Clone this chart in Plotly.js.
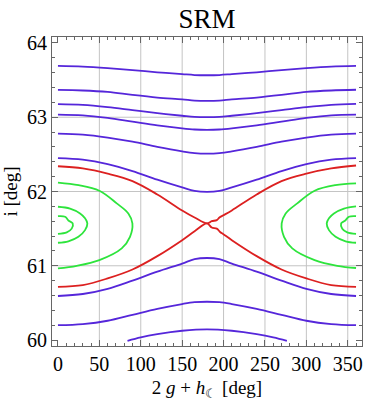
<!DOCTYPE html>
<html>
<head>
<meta charset="utf-8">
<script src="https://cdn.plot.ly/plotly-3.0.1.min.js"></script>
<style>
  body { margin: 0; background: #fff; }
  #chart { width: 376px; height: 404px; }
</style>
</head>
<body>
<div id="chart"></div>
<script>
// level curves, x = 2g + h [deg], y = i [deg]

var xTicks = [0, 50, 100, 150, 200, 250, 300, 350];
var xTickText = ['0', '50', '100', '150', '200', '250', '300', '350'];
var yTicks = [60, 61, 62, 63, 64];
var yTickText = ['60', '61', '62', '63', '64'];
var gridX = [50, 100, 150, 200, 250, 300, 350];
var gridY = [61, 62, 63];

// circulating curves (blue), sampled at the same x
var blueX = [0, 30, 60, 90, 120, 150, 165, 180, 195, 210, 240, 270, 300, 330, 360];
var blue1 = [63.69, 63.68, 63.66, 63.635, 63.605, 63.58, 63.568, 63.565, 63.568, 63.58, 63.605, 63.635, 63.66, 63.68, 63.69];
var blue2 = [63.367, 63.36, 63.34, 63.3, 63.265, 63.24, 63.224, 63.22, 63.224, 63.24, 63.265, 63.3, 63.34, 63.36, 63.37];
var blue3 = [63.175, 63.165, 63.135, 63.095, 63.055, 63.02, 63.004, 63.0, 63.004, 63.02, 63.055, 63.095, 63.135, 63.165, 63.18];
var blue4 = [63.036, 63.025, 62.99, 62.94, 62.89, 62.85, 62.835, 62.83, 62.835, 62.85, 62.89, 62.94, 62.99, 63.025, 63.035];
var blue5 = [62.78, 62.765, 62.725, 62.67, 62.6, 62.54, 62.517, 62.51, 62.517, 62.54, 62.6, 62.67, 62.725, 62.765, 62.78];
var blue6 = [62.45, 62.43, 62.37, 62.275, 62.16, 62.055, 62.008, 61.995, 62.008, 62.055, 62.16, 62.275, 62.37, 62.43, 62.45];
var blue7 = [60.593, 60.62, 60.69, 60.8, 60.92, 61.03, 61.09, 61.105, 61.09, 61.03, 60.92, 60.8, 60.69, 60.62, 60.593];
var blue8 = [60.2, 60.215, 60.26, 60.34, 60.42, 60.485, 60.51, 60.516, 60.51, 60.485, 60.42, 60.34, 60.26, 60.215, 60.2];
var blue9X = [84, 100, 120, 150, 180, 210, 240, 260, 276.5];
var blue9 = [59.99, 60.037, 60.08, 60.125, 60.145, 60.125, 60.08, 60.037, 59.99];

// separatrix (red)
var sepUpX = [0, 30, 60, 90, 120, 150, 165, 180, 185.7, 191.8, 195, 199.8, 210, 240, 270, 300, 330, 360];
var sepUp = [62.34, 62.31, 62.24, 62.14, 61.96, 61.745, 61.65, 61.57, 61.6, 61.615, 61.65, 61.68, 61.745, 61.96, 62.14, 62.24, 62.31, 62.35];
var sepLoX = [0, 30, 60, 90, 120, 150, 165, 180, 185.7, 191.8, 195.8, 199.8, 210, 240, 270, 300, 330, 360];
var sepLo = [60.717, 60.74, 60.83, 60.95, 61.13, 61.345, 61.465, 61.57, 61.515, 61.5, 61.455, 61.425, 61.345, 61.13, 60.95, 60.83, 60.74, 60.717];

// librating curves (green), left and right lobes
var grnOutLX = [0, 25, 50, 71, 85, 89.9, 87, 77, 50, 22.7, 0];
var grnOutL = [62.12, 62.085, 62.01, 61.84, 61.705, 61.57, 61.39, 61.235, 61.077, 61.0, 60.965];
var grnOutRX = [360, 335, 310, 289, 275, 270.2, 273, 283, 310, 337.3, 360];
var grnOutR = [62.11, 62.085, 62.01, 61.84, 61.705, 61.57, 61.39, 61.235, 61.077, 61.0, 60.97];
var grnMidLX = [0, 14.6, 26.7, 32.7, 35.5, 32.7, 24.7, 12.6, 0];
var grnMidL = [61.795, 61.77, 61.705, 61.64, 61.57, 61.48, 61.39, 61.33, 61.31];
var grnMidRX = [360, 345.4, 333.3, 327.3, 324.6, 327.3, 335.3, 347.4, 360];
var grnMidR = [61.8, 61.77, 61.705, 61.64, 61.57, 61.48, 61.39, 61.33, 61.31];
var grnInLX = [0, 8.6, 12.6, 17.8, 16.6, 10.6, 0];
var grnInL = [61.668, 61.66, 61.61, 61.57, 61.5, 61.45, 61.43];
var grnInRX = [360, 351.4, 347, 342, 343.4, 349.4, 360];
var grnInR = [61.668, 61.66, 61.61, 61.57, 61.5, 61.45, 61.43];

var BLUE = 'rgb(85,38,218)';
var RED = 'rgb(220,32,32)';
var GREEN = 'rgb(45,228,60)';

function curve(x, y, color) {
    return {
        x: x,
        y: y,
        type: 'scatter',
        mode: 'lines',
        line: { color: color, width: 1.8, shape: 'spline', smoothing: 1 },
        hoverinfo: 'skip',
        showlegend: false
    };
}

var data = [
    curve(blueX, blue1, BLUE),
    curve(blueX, blue2, BLUE),
    curve(blueX, blue3, BLUE),
    curve(blueX, blue4, BLUE),
    curve(blueX, blue5, BLUE),
    curve(blueX, blue6, BLUE),
    curve(blueX, blue7, BLUE),
    curve(blueX, blue8, BLUE),
    curve(blue9X, blue9, BLUE),
    curve(sepUpX, sepUp, RED),
    curve(sepLoX, sepLo, RED),
    curve(grnOutLX, grnOutL, GREEN),
    curve(grnOutRX, grnOutR, GREEN),
    curve(grnMidLX, grnMidL, GREEN),
    curve(grnMidRX, grnMidR, GREEN),
    curve(grnInLX, grnInL, GREEN),
    curve(grnInRX, grnInR, GREEN)
];

var shapes = [];
gridX.forEach(function (g) {
    shapes.push({ type: 'line', xref: 'x', yref: 'paper', x0: g, x1: g, y0: 0, y1: 1,
        layer: 'below', line: { color: 'rgb(196,196,196)', width: 1 } });
});
gridY.forEach(function (g) {
    shapes.push({ type: 'line', xref: 'paper', yref: 'y', x0: 0, x1: 1, y0: g, y1: g,
        layer: 'below', line: { color: 'rgb(196,196,196)', width: 1 } });
});

var serif = 'Liberation Serif, Times New Roman, serif';
var tickFont = { family: serif, size: 20, color: '#000' };
var labelFont = { family: serif, size: 19, color: '#000' };

var layout = {
    width: 376,
    height: 404,
    margin: { l: 52, r: 14, t: 37, b: 58 },
    paper_bgcolor: '#fff',
    plot_bgcolor: '#fff',
    title: {
        text: 'SRM',
        font: { family: serif, size: 27, color: '#000' },
        x: 0.5, xref: 'paper',
        y: 0.954, yref: 'container', yanchor: 'middle'
    },
    xaxis: {
        range: [-7.2, 367.2],
        tickmode: 'array',
        tickvals: xTicks,
        ticktext: xTickText,
        ticks: 'inside',
        ticklen: 6,
        tickcolor: '#666',
        showgrid: false,
        zeroline: false,
        showline: true,
        linecolor: '#666',
        mirror: 'allticks',
        minor: { tickmode: 'linear', tick0: 0, dtick: 10, ticks: 'inside', ticklen: 3, tickcolor: '#666', showgrid: false },
        tickfont: tickFont,
        title: { text: '2 <i>g</i> + <i>h</i><sub>☾</sub> [deg]', font: labelFont, standoff: 6 }
    },
    yaxis: {
        range: [59.92, 64.08],
        tickmode: 'array',
        tickvals: yTicks,
        ticktext: yTickText,
        ticks: 'inside',
        ticklen: 6,
        tickcolor: '#666',
        showgrid: false,
        zeroline: false,
        showline: true,
        linecolor: '#666',
        mirror: 'allticks',
        minor: { tickmode: 'linear', tick0: 60, dtick: 0.2, ticks: 'inside', ticklen: 3, tickcolor: '#666', showgrid: false },
        tickfont: tickFont,
        title: { text: 'i [deg]', font: labelFont, standoff: 4 }
    },
    shapes: shapes
};

var config = {
    displayModeBar: false,
    staticPlot: true
};

Plotly.newPlot('chart', data, layout, config);
</script>
</body>
</html>
